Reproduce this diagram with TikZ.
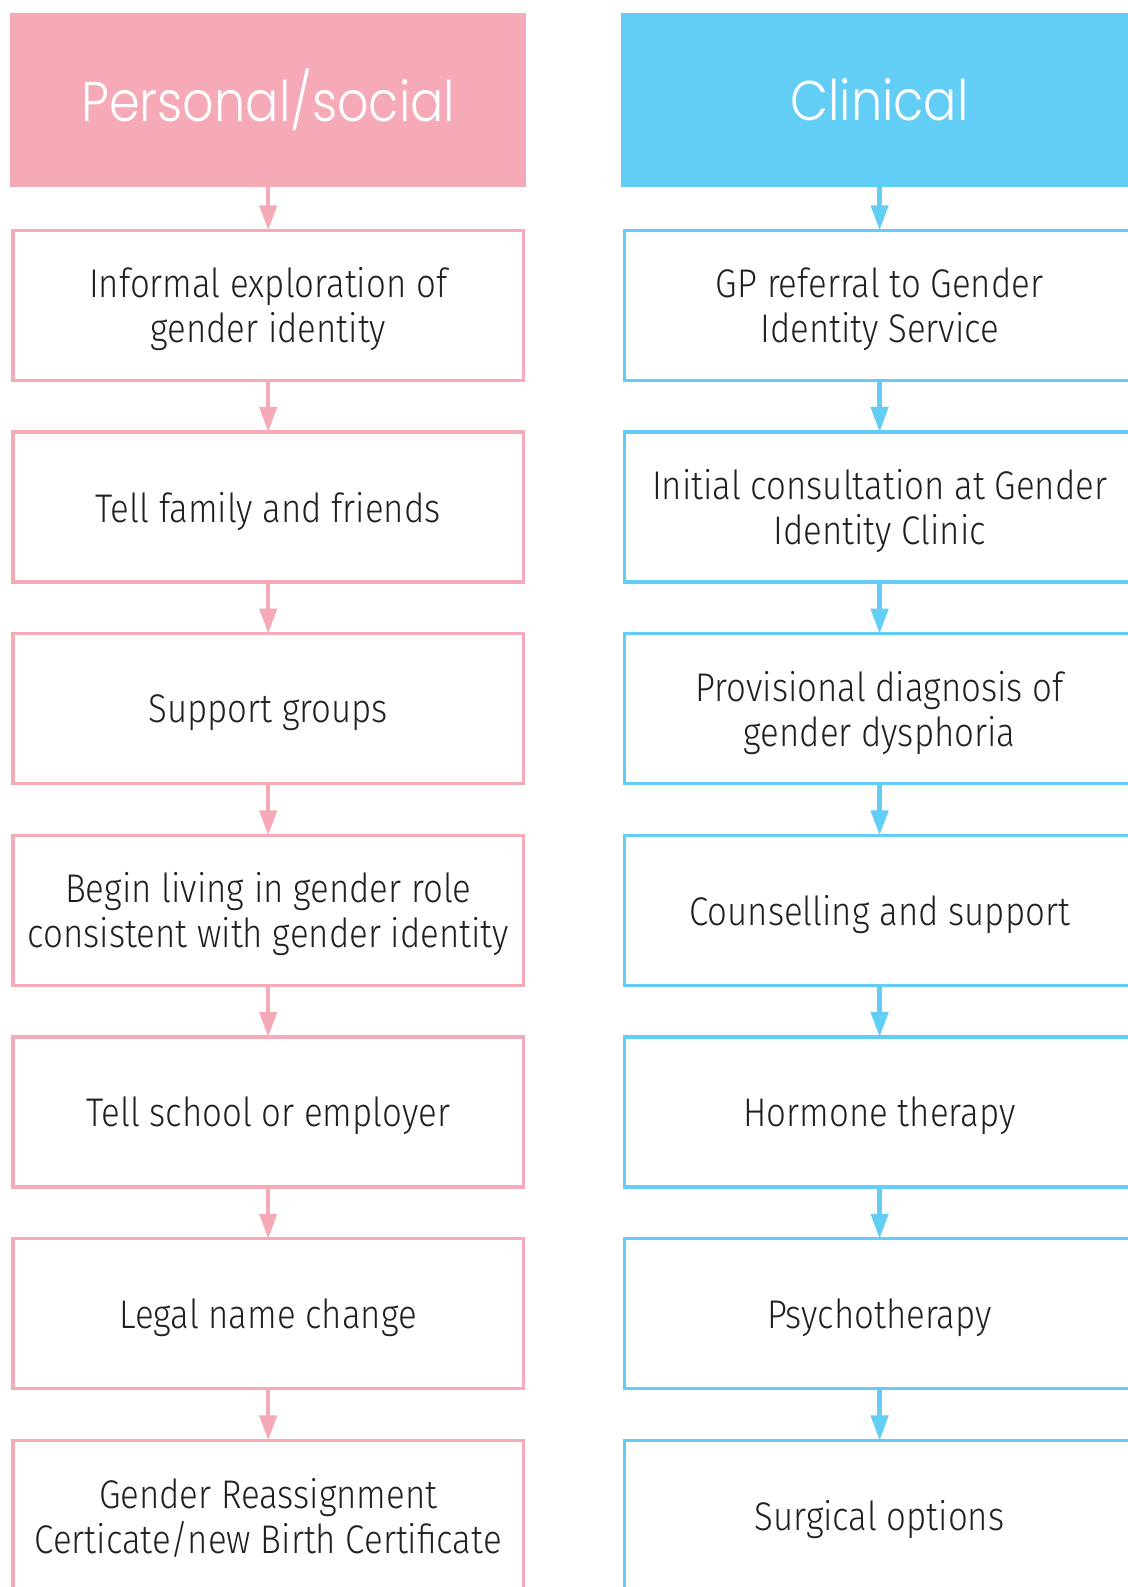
\documentclass[tikz,border=0pt]{standalone}
\usepackage{fontspec}
\setmainfont{Fira Sans}[UprightFont=* Light, FakeStretch=0.87]
\newfontfamily\headfont{Poppins}[UprightFont=* Light, FakeStretch=0.88]
\usetikzlibrary{positioning,arrows.meta}
\definecolor{socialpink}{RGB}{246,169,182}
\definecolor{clinicblue}{RGB}{98,205,245}
\definecolor{boxtext}{RGB}{35,31,32}

\begin{document}
\begin{tikzpicture}[
    x=1pt, y=1pt,
    node distance=25.85pt,
    header/.style={rectangle, minimum width=258.25pt, minimum height=86.85pt, inner sep=0pt, outer sep=0pt, text=white, font=\headfont\fontsize{28}{30}\selectfont},
    stepbox/.style={rectangle, draw, line width=1.6pt, fill=white, minimum width=255.15pt, minimum height=75pt, inner sep=0pt, outer sep=0pt, text depth=0pt, align=center, text=boxtext, font=\fontsize{20}{22.5}\selectfont},
    flow/.style={line width=2.2pt, -{Triangle[length=12.5pt, width=8.5pt]}}
]
\useasboundingbox (0,0) rectangle (564,-793.5);
\clip (0,0) rectangle (564,-793.5);

% personal / social column
\node[header, fill=socialpink] (ph) at (134.1,-49.9) {Personal/social};
\node[stepbox, draw=socialpink, below=21.8pt of ph] (p1) {Informal exploration of\\gender identity};
\node[stepbox, draw=socialpink, below=of p1] (p2) {Tell family and friends};
\node[stepbox, draw=socialpink, below=of p2] (p3) {Support groups};
\node[stepbox, draw=socialpink, below=of p3] (p4) {Begin living in gender role\\consistent with gender identity};
\node[stepbox, draw=socialpink, below=of p4] (p5) {Tell school or employer};
\node[stepbox, draw=socialpink, below=of p5] (p6) {Legal name change};
\node[stepbox, draw=socialpink, below=of p6] (p7) {Gender Reassignment\\Certicate/new Birth Certificate};

% clinical column
\node[header, fill=clinicblue] (ch) at (439.8,-49.9) {Clinical};
\node[stepbox, draw=clinicblue, below=21.8pt of ch] (c1) {GP referral to Gender\\Identity Service};
\node[stepbox, draw=clinicblue, below=of c1] (c2) {Initial consultation at Gender\\Identity Clinic};
\node[stepbox, draw=clinicblue, below=of c2] (c3) {Provisional diagnosis of\\gender dysphoria};
\node[stepbox, draw=clinicblue, below=of c3] (c4) {Counselling and support};
\node[stepbox, draw=clinicblue, below=of c4] (c5) {Hormone therapy};
\node[stepbox, draw=clinicblue, below=of c5] (c6) {Psychotherapy};
\node[stepbox, draw=clinicblue, below=of c6] (c7) {Surgical options};

% arrows
\draw[flow, socialpink] (ph) -- (p1);
\draw[flow, socialpink] (p1) -- (p2);
\draw[flow, socialpink] (p2) -- (p3);
\draw[flow, socialpink] (p3) -- (p4);
\draw[flow, socialpink] (p4) -- (p5);
\draw[flow, socialpink] (p5) -- (p6);
\draw[flow, socialpink] (p6) -- (p7);
\draw[flow, clinicblue] (ch) -- (c1);
\draw[flow, clinicblue] (c1) -- (c2);
\draw[flow, clinicblue] (c2) -- (c3);
\draw[flow, clinicblue] (c3) -- (c4);
\draw[flow, clinicblue] (c4) -- (c5);
\draw[flow, clinicblue] (c5) -- (c6);
\draw[flow, clinicblue] (c6) -- (c7);
\end{tikzpicture}
\end{document}
